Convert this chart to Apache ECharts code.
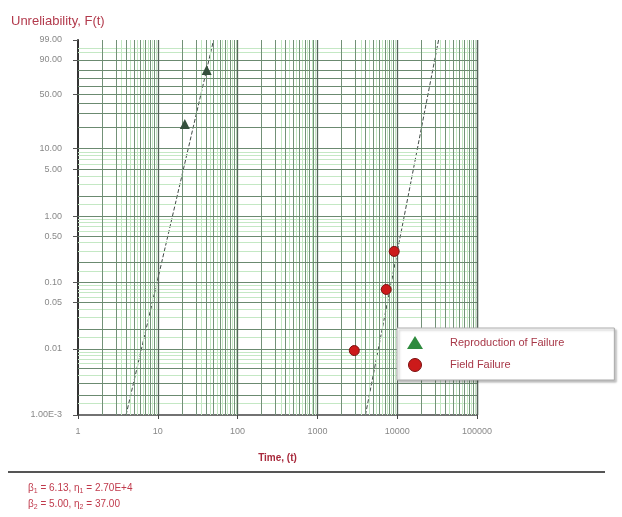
<!DOCTYPE html>
<html>
<head>
<meta charset="utf-8">
<script src="https://cdn.jsdelivr.net/npm/echarts@6/dist/echarts.min.js"></script>
<style>
html,body{margin:0;padding:0;background:#fff;}
#chart{width:622px;height:517px;}
</style>
</head>
<body>
<div id="chart"></div>
<script>
// ---- data (time in hours, unreliability in percent) ----
const reproTime = [21.8, 41.0];
const reproF = [21.9, 80.2];
const fieldTime = [2900, 7290, 9170];
const fieldF = [0.0094, 0.0786, 0.295];
// fitted lines, endpoints (time, percent)
const fieldLine = [[4000, 0.001], [33000, 99]];
const reproLine = [[4.0, 0.001], [50, 99]];
// tick labels
const yTickPercents = [99, 90, 50, 10, 5, 1, 0.5, 0.1, 0.05, 0.01, 0.001];
const yTickLabels = ['99.00', '90.00', '50.00', '10.00', '5.00', '1.00', '0.50', '0.10', '0.05', '0.01', '1.00E-3'];
const xTickValues = [1, 10, 100, 1000, 10000, 100000];
const xTickLabels = ['1', '10', '100', '1000', '10000', '100000'];
// parameters
const betas = ['6.13', '5.00'];
const etas = ['2.70E+4', '37.00'];
const seriesNames = ['Reproduction of Failure', 'Field Failure'];

// Weibull probability scale
const w = p => Math.log(-Math.log(1 - p / 100));
const yMin = w(0.001), yMax = w(99);

// grid line positions
const decades = [1, 10, 100, 1000, 10000];
const vDark = [], vLight = [], vMajor = [];
decades.forEach(d => {
  for (let k = 2; k <= 9; k++) vDark.push(d * k);
  for (let k = 3; k <= 9; k++) vLight.push(d * (k + 0.5));
  vMajor.push(d * 10);
});
const hDark = [99, 90, 80, 70, 60, 50, 40, 30, 20, 10, 5, 2, 1, 0.5, 0.2, 0.1, 0.05, 0.02, 0.01, 0.005, 0.003, 0.002];
const hLight = [97, 95];
[1, 0.1, 0.01, 0.001].forEach(d => { [1.5, 3, 4, 6, 7, 8, 9].forEach(k => hLight.push(d * k)); });

const chart = echarts.init(document.getElementById('chart'));
const lineMark = (vals, axis, color, width) => ({
  silent: true, symbol: 'none', animation: false,
  label: {show: false},
  lineStyle: {color: color, width: width, type: 'solid', opacity: 1},
  emphasis: {disabled: true},
  data: vals.map(v => axis === 'x' ? {xAxis: v} : {yAxis: w(v)})
});
const dummy = [[1, yMin]];

const option = {
  animation: false,
  backgroundColor: '#fff',
  textStyle: {fontFamily: 'Liberation Sans, Arial, sans-serif'},
  title: [{
    text: 'Unreliability, F(t)', left: 6, top: 10,
    textStyle: {color: '#b23a4c', fontSize: 13, fontWeight: 'normal'}
  }],
  grid: {left: 78, right: 145, top: 40, bottom: 102},
  legend: {
    orient: 'vertical', left: 397, top: 328, z: 50, zlevel: 1,
    padding: [8, 50, 8, 10], itemGap: 9,
    itemWidth: 16, itemHeight: 13,
    backgroundColor: '#fff', borderColor: '#aaa', borderWidth: 1,
    shadowColor: 'rgba(0,0,0,0.25)', shadowOffsetX: 2, shadowOffsetY: 2, shadowBlur: 2,
    textStyle: {color: '#a83848', fontSize: 11, padding: [0, 0, 0, 22]},
    data: [
      {name: seriesNames[0], icon: 'triangle', itemStyle: {color: '#2e8b3e'}},
      {name: seriesNames[1], icon: 'circle', itemStyle: {color: '#cc1a1a', borderColor: '#7a1010', borderWidth: 1}}
    ]
  },
  xAxis: {
    type: 'log', logBase: 10, min: 1, max: 100000,
    name: 'Time, (t)', nameLocation: 'middle', nameGap: 38,
    nameTextStyle: {color: '#a82a3c', fontSize: 10, fontWeight: 'bold'},
    axisLine: {onZero: false, lineStyle: {color: '#444', width: 1.5}},
    axisTick: {show: true, length: 4, inside: false, lineStyle: {color: '#444'}},
    axisLabel: {
      color: '#888', fontSize: 9, margin: 12,
      formatter: v => { const i = xTickValues.findIndex(t => Math.abs(Math.log10(t) - Math.log10(v)) < 1e-6); return i >= 0 ? xTickLabels[i] : ''; }
    },
    splitLine: {show: false}
  },
  yAxis: {
    type: 'value', min: yMin, max: yMax,
    axisLine: {show: true, onZero: false, lineStyle: {color: '#333', width: 2}},
    axisTick: {show: true, length: 5, customValues: yTickPercents.map(w), lineStyle: {color: '#555'}},
    axisLabel: {
      color: '#888', fontSize: 9, margin: 16,
      customValues: yTickPercents.map(w),
      formatter: v => { const i = yTickPercents.findIndex(p => Math.abs(w(p) - v) < 1e-6); return i >= 0 ? yTickLabels[i] : ''; }
    },
    splitLine: {show: false}
  },
  series: [
    {type: 'line', data: dummy, symbol: 'none', silent: true, z: 1, lineStyle: {opacity: 0},
     markLine: lineMark(vLight, 'x', '#c4e8c4', 1)},
    {type: 'line', data: dummy, symbol: 'none', silent: true, z: 1, lineStyle: {opacity: 0},
     markLine: lineMark(hLight, 'y', '#c4e8c4', 1)},
    {type: 'line', data: dummy, symbol: 'none', silent: true, z: 2, lineStyle: {opacity: 0},
     markLine: lineMark(vDark, 'x', '#739178', 1)},
    {type: 'line', data: dummy, symbol: 'none', silent: true, z: 2, lineStyle: {opacity: 0},
     markLine: lineMark(hDark, 'y', '#6b8a70', 1)},
    {type: 'line', data: dummy, symbol: 'none', silent: true, z: 3, lineStyle: {opacity: 0},
     markLine: lineMark(vMajor.concat([100000]), 'x', '#55655a', 1.3)},
    {type: 'line', name: 'fitField', data: fieldLine.map(d => [d[0], w(d[1])]), symbol: 'none', z: 4,
     lineStyle: {color: '#404a46', width: 1, type: [4, 2]}},
    {type: 'line', name: 'fitRepro', data: reproLine.map(d => [d[0], w(d[1])]), symbol: 'none', z: 4,
     lineStyle: {color: '#404a46', width: 1, type: [4, 2]}},
    {type: 'scatter', name: seriesNames[0], symbol: 'triangle', symbolSize: 10, z: 5,
     itemStyle: {color: '#34503c', opacity: 1},
     data: reproTime.map((t, i) => [t, w(reproF[i])])},
    {type: 'scatter', name: seriesNames[1], symbol: 'circle', symbolSize: 10, z: 5,
     itemStyle: {color: '#cc1a1a', borderColor: '#7a1010', borderWidth: 1, opacity: 1},
     data: fieldTime.map((t, i) => [t, w(fieldF[i])])}
  ],
  graphic: [
    {type: 'line', shape: {x1: 8, y1: 472, x2: 605, y2: 472}, style: {stroke: '#555', lineWidth: 2}},
    {type: 'text', left: 28, top: 483, style: {
      text: 'β{s|1} = ' + betas[0] + ', η{s|1} = ' + etas[0],
      fill: '#c03a4c', fontSize: 10, fontFamily: 'Liberation Sans, Arial, sans-serif',
      rich: {s: {fontSize: 7, verticalAlign: 'bottom', padding: [6, 0, 0, 0], fill: '#c03a4c'}}
    }},
    {type: 'text', left: 28, top: 499, style: {
      text: 'β{s|2} = ' + betas[1] + ', η{s|2} = ' + etas[1],
      fill: '#c03a4c', fontSize: 10, fontFamily: 'Liberation Sans, Arial, sans-serif',
      rich: {s: {fontSize: 7, verticalAlign: 'bottom', padding: [6, 0, 0, 0], fill: '#c03a4c'}}
    }}
  ]
};
chart.setOption(option);
</script>
</body>
</html>
